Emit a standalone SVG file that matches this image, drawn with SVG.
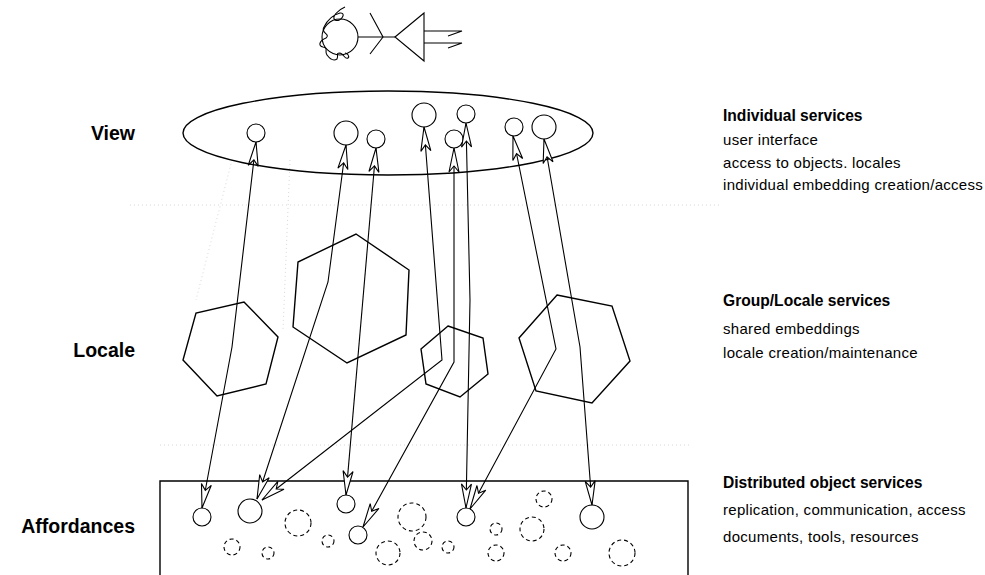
<svg xmlns="http://www.w3.org/2000/svg" width="985" height="575" viewBox="0 0 985 575">
  <style>
    .ln { fill: none; stroke: #000; stroke-width: 1.1; }
    .sh { fill: none; stroke: #000; stroke-width: 1.4; }
    .dc { fill: none; stroke: #000; stroke-width: 1.1; stroke-dasharray: 4 3; }
    .ft { fill: none; stroke: #d8d8d8; stroke-width: 1; stroke-dasharray: 1 3; }
    .lbl { font-family: "Liberation Sans", Arial, sans-serif; font-weight: bold; font-size: 19.5px; text-anchor: end; }
    .hd { font-family: "Liberation Sans", Arial, sans-serif; font-weight: bold; font-size: 15.6px; }
    .tx { font-family: "Liberation Sans", Arial, sans-serif; font-size: 15px; letter-spacing: 0.3px; }
  </style>
  <defs>
    <marker id="head" markerUnits="userSpaceOnUse" viewBox="-26 -7 28 14" markerWidth="28" markerHeight="14" refX="0" refY="0" orient="auto-start-reverse">
      <path d="M0,0 L-24,-5 L-18,0 L-24,5 Z" fill="#fff" stroke="#000" stroke-width="1.1" stroke-linejoin="miter"/>
    </marker>
  </defs>

  <!-- faint construction guides -->
  <g id="guides">
    <line class="ft" x1="130" y1="205" x2="720" y2="205"/>
    <line class="ft" x1="160" y1="445" x2="690" y2="445"/>
    <line class="ft" x1="232" y1="160" x2="196" y2="300"/>
    <line class="ft" x1="290" y1="160" x2="283" y2="330"/>
  </g>

  <!-- user figure -->
  <g id="user">
    <circle class="ln" cx="340" cy="37" r="18"/>
    <path class="ln" d="M345,7 C338,10 331,17 335,20 C341,23 347,12 340,13 C332,15 327,21 324,27 C320,33 331,34 326,38 C319,41 318,46 323,47 C329,48 324,52 327,55 C330,59 334,61 337,59 C339,55 335,53 340,53 C344,54 345,60 348,58 C350,56 347,53 345,53"/>
    <line class="ln" x1="358" y1="37" x2="395" y2="37"/>
    <polyline class="ln" points="370,13 383,37 370,54"/>
    <polygon class="ln" points="395,37 424,13 424,61"/>
    <polyline class="ln" points="424,31 462,31 448,36"/>
    <polyline class="ln" points="424,43 462,43 448,48"/>
  </g>

  <!-- view layer -->
  <g id="view">
    <ellipse class="sh" cx="388" cy="133" rx="205" ry="42"/>
    <circle class="ln" cx="256" cy="133" r="9"/>
    <circle class="ln" cx="346" cy="133" r="12"/>
    <circle class="ln" cx="376" cy="139" r="9"/>
    <circle class="ln" cx="424" cy="115" r="12"/>
    <circle class="ln" cx="466" cy="114" r="9"/>
    <circle class="ln" cx="454" cy="139" r="9"/>
    <circle class="ln" cx="514" cy="127" r="9"/>
    <circle class="ln" cx="544" cy="127" r="12"/>
  </g>

  <!-- locale layer -->
  <g id="locale-a"><polygon class="sh" points="244,302 278,337 266,384 217,396 183,360 196,313"/></g>
  <g id="locale-b"><polygon class="sh" points="356,234 409,270 406,335 347,363 293,327 298,262"/></g>
  <g id="locale-c"><polygon class="sh" points="448,326 483,338 488,374 460,397 426,384 421,349"/></g>
  <g id="locale-d"><polygon class="sh" points="557,295 612,306 630,361 592,403 536,391 519,338"/></g>

  <!-- affordance layer -->
  <g id="affordances">
    <polyline class="sh" points="160,575 160,481 688,481 688,575"/>
    <circle class="ln" cx="202" cy="517" r="9"/>
    <circle class="ln" cx="250" cy="511" r="12"/>
    <circle class="ln" cx="346" cy="504" r="9"/>
    <circle class="ln" cx="358" cy="535" r="9"/>
    <circle class="ln" cx="466" cy="517" r="9"/>
    <circle class="ln" cx="592" cy="517" r="12"/>
    <circle class="dc" cx="298" cy="523" r="13"/>
    <circle class="dc" cx="232" cy="547" r="8"/>
    <circle class="dc" cx="268" cy="553" r="6"/>
    <circle class="dc" cx="328" cy="541" r="6"/>
    <circle class="dc" cx="412" cy="517" r="14"/>
    <circle class="dc" cx="423" cy="541" r="9"/>
    <circle class="dc" cx="388" cy="553" r="12"/>
    <circle class="dc" cx="448" cy="547" r="6"/>
    <circle class="dc" cx="496" cy="529" r="6"/>
    <circle class="dc" cx="496" cy="553" r="8"/>
    <circle class="dc" cx="532" cy="529" r="12"/>
    <circle class="dc" cx="544" cy="499" r="8"/>
    <circle class="dc" cx="563" cy="553" r="8"/>
    <circle class="dc" cx="622" cy="553" r="13"/>
  </g>

  <!-- two-way links between view and affordance objects -->
  <g id="connectors" class="ln" marker-start="url(#head)" marker-end="url(#head)">
    <polyline points="256,142 232,347 202,508"/>
    <polyline points="346,145 328,282 257,499"/>
    <polyline points="376,148 346,495"/>
    <polyline points="424,127 442,360 262,500"/>
    <polyline points="454,148 454,362 363,527"/>
    <polyline points="466,123 470,300 466,508"/>
    <polyline points="513,136 556,349 470,509"/>
    <polyline points="544,139 580,347 592,505"/>
  </g>

  <!-- layer names -->
  <g id="layer-labels">
    <text class="lbl" x="135" y="140">View</text>
    <text class="lbl" x="135" y="357">Locale</text>
    <text class="lbl" x="135" y="533">Affordances</text>
  </g>

  <!-- service descriptions -->
  <g id="services">
    <text class="hd" x="723" y="121">Individual services</text>
    <text class="tx" x="723" y="145">user interface</text>
    <text class="tx" x="723" y="168">access to objects. locales</text>
    <text class="tx" x="723" y="190">individual embedding creation/access</text>
    <text class="hd" x="723" y="306">Group/Locale services</text>
    <text class="tx" x="723" y="334">shared embeddings</text>
    <text class="tx" x="723" y="358">locale creation/maintenance</text>
    <text class="hd" x="723" y="488">Distributed object services</text>
    <text class="tx" x="723" y="515">replication, communication, access</text>
    <text class="tx" x="723" y="542">documents, tools, resources</text>
  </g>
</svg>
